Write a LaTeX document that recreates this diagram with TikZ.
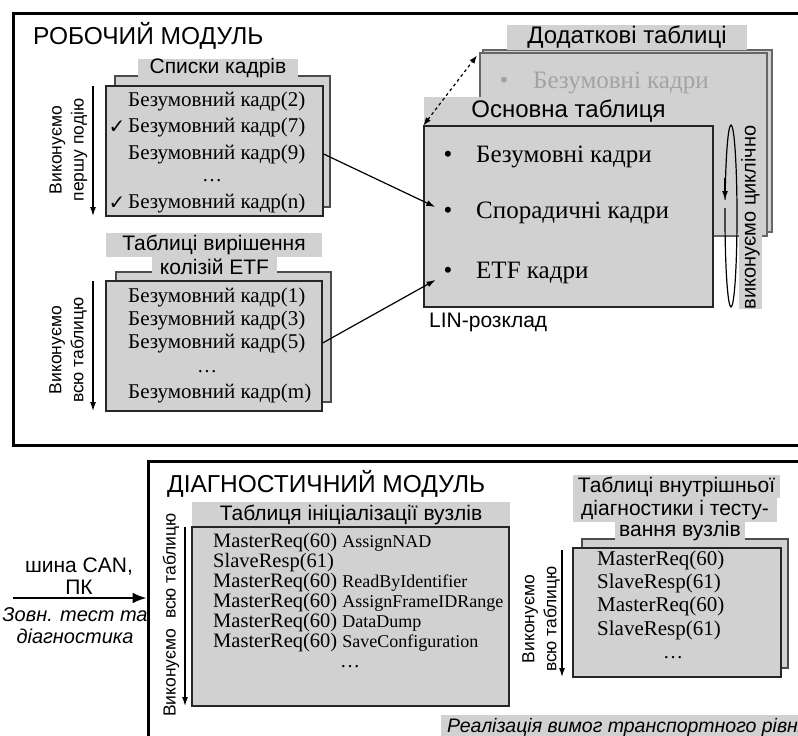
\documentclass[tikz,border=0pt]{standalone}
\usepackage{fontspec}
\setmainfont{Liberation Serif}
\setsansfont{Liberation Sans}
\newfontfamily\symfont{DejaVu Sans}
\usetikzlibrary{arrows.meta}
\definecolor{boxgray}{gray}{0.82}
\definecolor{fadedtext}{gray}{0.64}
\newcommand{\myfs}[2]{\fontsize{#1}{#2}\selectfont}
\begin{document}
\begin{tikzpicture}[x=1pt,y=-1pt,
  module/.style={draw=black, line width=3pt, inner sep=0pt},
  box/.style={draw=black!85, line width=1.2pt, fill=boxgray, inner sep=0pt},
  backbox/.style={draw=black!70, line width=1.2pt, fill=boxgray, inner sep=0pt},
  titlebg/.style={fill=boxgray, inner sep=0pt, font=\sffamily\myfs{21}{24}},
  headtext/.style={font=\sffamily\myfs{24.5}{28}, inner sep=0pt},
  entry/.style={font=\myfs{21}{24}, inner sep=0pt, anchor=west},
  bigentry/.style={font=\myfs{21}{24}, inner sep=0pt, anchor=west},
  dots/.style={font=\myfs{20}{24}, inner sep=0pt},
  vlabel/.style={font=\sffamily\myfs{17.5}{22}, rotate=90, align=center, inner sep=0pt},
  varr/.style={-{Latex[length=9pt,width=6pt]}, line width=1.2pt},
  arr/.style={-{Latex[length=9pt,width=6pt]}, line width=1.2pt},
  bullet/.style={font=\myfs{25}{28}, inner sep=0pt},
  btext/.style={font=\myfs{25}{28}, inner sep=0pt, anchor=west}
]
\useasboundingbox (0,0) rectangle (798,736);
\clip (0,0) rectangle (798,736);

% ================= РОБОЧИЙ МОДУЛЬ =================
\node[module, minimum width=802, minimum height=432] (robmod) at (414,229) {};
\node[headtext, anchor=west] (robtitle) at (33,36) {РОБОЧИЙ МОДУЛЬ};

% --- Списки кадрів
\node[backbox, minimum width=215, minimum height=131] (l1b) at (222.5,141.5) {};
\node[titlebg, minimum width=160, minimum height=17] (l1t) at (218,68.5) {Списки кадрів};
\node[box, minimum width=217, minimum height=130] (l1f) at (214.5,151) {};
\node[entry] (l1e1) at (128,101) {Безумовний кадр(2)};
\node[entry] (l1e2) at (128,127) {Безумовний кадр(7)};
\node[entry] (l1e3) at (128,154) {Безумовний кадр(9)};
\node[dots] (l1e4) at (212,181) {…};
\node[entry] (l1e5) at (128,203) {Безумовний кадр(n)};
\node[font=\symfont\myfs{20}{22}, inner sep=0pt] (ck1) at (117,127) {✓};
\node[font=\symfont\myfs{20}{22}, inner sep=0pt] (ck2) at (117,203) {✓};
\coordinate (v1a) at (93,86);
\coordinate (v1b) at (93,216);
\draw[varr] (v1a) -- (v1b);
\node[vlabel] (l1lbl) at (68.5,150) {Виконуємо\\першу подію};

% --- Таблиці вирішення колізій ETF
\node[backbox, minimum width=215, minimum height=130] (l2b) at (223.5,337) {};
\node[titlebg, minimum width=216, minimum height=24] (l2t1) at (214,245) {Таблиці вирішення};
\node[titlebg, minimum width=125, minimum height=20] (l2t2) at (214.5,267) {колізій ETF};
\node[box, minimum width=216, minimum height=130] (l2f) at (214,346) {};
\node[entry] (l2e1) at (128,297) {Безумовний кадр(1)};
\node[entry] (l2e2) at (128,320) {Безумовний кадр(3)};
\node[entry] (l2e3) at (128,343) {Безумовний кадр(5)};
\node[dots] (l2e4) at (207,372) {…};
\node[entry] (l2e5) at (128,393) {Безумовний кадр(m)};
\coordinate (v2a) at (93,281);
\coordinate (v2b) at (93,411);
\draw[varr] (v2a) -- (v2b);
\node[vlabel] (l2lbl) at (68,350) {Виконуємо\\всю таблицю};

% --- Додаткові таблиці
\node[backbox, draw=black!60, minimum width=289, minimum height=182] (add2) at (627.5,141) {};
\node[backbox, draw=black!60, minimum width=287, minimum height=183] (add1) at (623.5,144.5) {};
\node[titlebg, font=\sffamily\myfs{24}{28}, minimum width=240, minimum height=25] (addt) at (627,37.5) {Додаткові таблиці};
\node[bullet, text=fadedtext] (addd) at (504,83) {•};
\node[btext, text=fadedtext] (addtx) at (533,83) {Безумовні кадри};

% --- Основна таблиця
\node[titlebg, font=\sffamily\myfs{24}{28}, minimum width=289, minimum height=29] (maint) at (568.5,111.5) {Основна таблиця};
\node[box, minimum width=289, minimum height=181] (mainf) at (568.5,216.5) {};
\node[bullet] (mbd1) at (448,157) {•};
\node[btext] (mbt1) at (476,157) {Безумовні кадри};
\node[bullet] (mbd2) at (448,213) {•};
\node[btext] (mbt2) at (476,213) {Спорадичні кадри};
\node[bullet] (mbd3) at (448,273) {•};
\node[btext] (mbt3) at (476,273) {ETF кадри};
\node[font=\sffamily\myfs{21}{24}, inner sep=0pt, anchor=west] (lin) at (429,322) {LIN-розклад};

\draw[dashed, line width=1.2pt, {Latex[length=8pt,width=6pt]}-{Latex[length=8pt,width=6pt]}, shorten >=4pt] (mainf.north west) -- (add1.north west);

% --- виконуємо циклічно
\node[fill=boxgray, rotate=90, inner sep=0pt, minimum width=181, minimum height=23, font=\sffamily\myfs{20}{24}] (cyclbl) at (750.5,217.5) {виконуємо циклічно};
\draw[line width=1.2pt] (731,216) ellipse [x radius=6, y radius=91];
\fill[boxgray] (721,200) rectangle (729,207.5);
\coordinate (cyca) at (725,178);
\coordinate (cycb) at (725,200);
\draw[arr] (cyca) -- (cycb);

% --- arrows to main table
\draw[arr, shorten >=9pt] (l1f.east |- l1e3) -- (mbd2);
\draw[arr, shorten >=9pt] (l2f.east |- l2e3) -- (mbd3);

% ================= ДІАГНОСТИЧНИЙ МОДУЛЬ =================
\node[module, minimum width=667, minimum height=299] (diagmod) at (481.5,610.5) {};
\node[headtext, anchor=west] (diagtitle) at (167,484) {ДІАГНОСТИЧНИЙ МОДУЛЬ};

% --- Таблиця ініціалізації вузлів
\node[titlebg, minimum width=318, minimum height=25] (dlt) at (351,514.5) {Таблиця ініціалізації вузлів};
\node[box, minimum width=317, minimum height=179] (dlf) at (350.5,616.5) {};
\node[entry] (dle1) at (213,543) {\myfs{20.5}{24}MasterReq(60) \myfs{18}{24}AssignNAD};
\node[entry] (dle2) at (213,563) {\myfs{20.5}{24}SlaveResp(61)};
\node[entry] (dle3) at (213,583) {\myfs{20.5}{24}MasterReq(60) \myfs{18}{24}ReadByIdentifier};
\node[entry] (dle4) at (213,603) {\myfs{20.5}{24}MasterReq(60) \myfs{18}{24}AssignFrameIDRange};
\node[entry] (dle5) at (213,623) {\myfs{20.5}{24}MasterReq(60) \myfs{18}{24}DataDump};
\node[entry] (dle6) at (213,643) {\myfs{20.5}{24}MasterReq(60) \myfs{18}{24}SaveConfiguration};
\node[dots] (dle7) at (350,667) {…};
\coordinate (v3a) at (185,527);
\coordinate (v3b) at (185,706);
\draw[varr] (v3a) -- (v3b);
\node[vlabel] (dllbl) at (171,615) {Виконуємо\ \ всю таблицю};

% --- Таблиці внутрішньої діагностики
\node[backbox, minimum width=206, minimum height=129] (drb) at (685,603.5) {};
\node[box, minimum width=208, minimum height=129] (drf) at (677,612.5) {};
\node[titlebg, minimum width=207, minimum height=23] (drt1) at (676.5,486.5) {Таблиці внутрішньої};
\node[titlebg, minimum width=204, minimum height=24] (drt2) at (675,510) {діагностики і тесту-};
\node[titlebg, minimum width=130, minimum height=18] (drt3) at (680,531) {вання вузлів};
\node[bigentry] (dre1) at (597,560) {MasterReq(60)};
\node[bigentry] (dre2) at (597,583) {SlaveResp(61)};
\node[bigentry] (dre3) at (597,606) {MasterReq(60)};
\node[bigentry] (dre4) at (597,630) {SlaveResp(61)};
\node[dots] (dre5) at (673,658) {…};
\coordinate (v4a) at (562,550);
\coordinate (v4b) at (562,677);
\draw[varr] (v4a) -- (v4b);
\node[vlabel] (drlbl) at (541,619) {Виконуємо\\всю таблицю};

% --- input
\coordinate (canin) at (13,598);
\draw[-{Latex[length=14pt,width=11pt]}, line width=2pt] (canin) -- (diagmod.west |- canin);
\node[font=\sffamily\myfs{21}{22}, align=center, inner sep=0pt] (canlbl) at (79,576) {шина CAN,\\ПК};
\node[font=\sffamily\itshape\myfs{20}{22}, align=center, inner sep=0pt] (extlbl) at (75,626) {Зовн. тест та\\діагностика};

% --- bottom
\node[fill=boxgray, anchor=west, inner xsep=6pt, inner ysep=0pt, minimum height=24, font=\sffamily\itshape\myfs{19.5}{24}] (transp) at (441,727) {Реалізація вимог транспортного рівня};
\end{tikzpicture}
\end{document}
